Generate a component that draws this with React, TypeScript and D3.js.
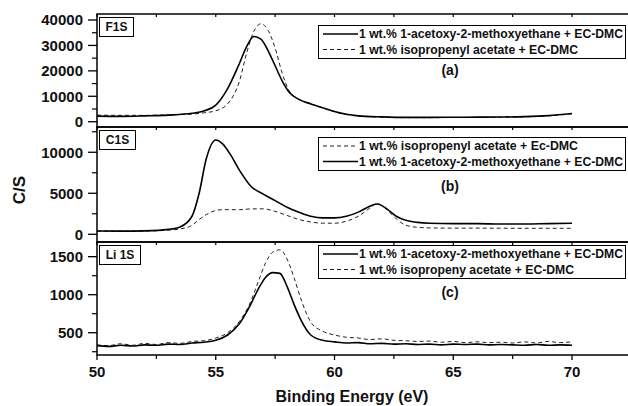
import React from "react";
import * as d3 from "d3";

// F1S panel
const f1sEnergy = [50, 51, 52, 53, 54, 54.5, 55, 55.5, 56, 56.3, 56.6, 56.9, 57.2, 57.5, 57.8, 58.1, 58.5, 59, 59.5, 60, 60.5, 61, 62, 63, 64, 65, 66, 67, 68, 69, 70];
const f1sAcetoxy = [2200, 2100, 2300, 2600, 3300, 4200, 6500, 13000, 23000, 29500, 33500, 32500, 28000, 22000, 16000, 11500, 8800, 7000, 5500, 4000, 2900, 2300, 1900, 1700, 1700, 1750, 1800, 1850, 2000, 2400, 3200];
const f1sIsopropenyl = [2600, 2500, 2500, 2700, 3000, 3500, 4300, 7000, 16000, 27000, 35500, 38500, 36000, 29000, 19000, 12000, 8800, 7000, 5400, 3900, 2800, 2200, 1800, 1600, 1600, 1650, 1700, 1800, 1900, 2300, 3100];

// C1S panel
const c1sEnergy = [50, 51, 52, 53, 53.5, 54, 54.3, 54.6, 55, 55.3, 55.6, 56, 56.5, 57, 57.5, 58, 58.5, 59, 59.5, 60, 60.5, 61, 61.4, 61.8, 62.2, 62.6, 63, 63.5, 64, 65, 66, 67, 68, 69, 70];
const c1sAcetoxy = [400, 380, 420, 600, 900, 2200, 5000, 9200, 11500, 11000, 9800, 7800, 5800, 4900, 4100, 3300, 2700, 2200, 2000, 2000, 2200, 2700, 3300, 3700, 3100, 2200, 1700, 1450, 1350, 1300, 1300, 1250, 1250, 1300, 1350];
const c1sIsopropenyl = [400, 380, 400, 500, 650, 1100, 1800, 2400, 2900, 3000, 3000, 3000, 3100, 3100, 2800, 2300, 1800, 1500, 1350, 1350, 1600, 2200, 3000, 3750, 3000, 1900, 1100, 850, 780, 750, 750, 740, 730, 730, 730];

// Li 1S panel
const li1sEnergy = [50, 50.5, 51, 51.5, 52, 52.5, 53, 53.5, 54, 54.5, 55, 55.5, 56, 56.4, 56.8, 57.1, 57.4, 57.7, 58, 58.3, 58.6, 59, 59.5, 60, 60.5, 61, 61.5, 62, 62.5, 63, 63.5, 64, 64.5, 65, 65.5, 66, 66.5, 67, 67.5, 68, 68.5, 69, 69.5, 70];
const li1sAcetoxy = [330, 320, 335, 325, 340, 335, 350, 345, 365, 375, 400, 470, 620, 830, 1080, 1230, 1290, 1280, 1110, 870, 660, 470, 400, 380, 365, 370, 355, 360, 350, 355, 345, 350, 340, 350, 345, 350, 340, 345, 340, 335, 345, 335, 340, 335];
const li1sIsopropenyl = [340, 330, 355, 335, 360, 345, 370, 360, 385, 395, 430, 500, 650, 860, 1180, 1420, 1560, 1590, 1470, 1220, 930, 640, 520, 470, 440, 430, 410, 420, 400, 395, 385, 390, 375, 385, 370, 380, 370, 375, 365, 380, 365, 385, 370, 380];

const xTicks = [50, 55, 60, 65, 70];
const xMinorTicks = [52.5, 57.5, 62.5, 67.5];

const panels = [
  {
    top: 14, bottom: 127, domain: [-2080, 42360], ticks: [0, 10000, 20000, 30000, 40000],
    minor: [5000, 15000, 25000, 35000], label: "F1S", labelW: 34, letter: "(a)",
    energy: f1sEnergy, solid: f1sAcetoxy, dashed: f1sIsopropenyl,
    legend: [
      { text: "1 wt.% 1-acetoxy-2-methoxyethane + EC-DMC", dashed: false, w: 264 },
      { text: "1 wt.% isopropenyl acetate + EC-DMC", dashed: true, w: 219 },
    ],
    legendTop: 25, letterY: 75,
  },
  {
    top: 127, bottom: 242, domain: [-940, 13080], ticks: [0, 5000, 10000],
    minor: [2500, 7500, 12500], label: "C1S", labelW: 36, letter: "(b)",
    energy: c1sEnergy, solid: c1sAcetoxy, dashed: c1sIsopropenyl,
    legend: [
      { text: "1 wt.% isopropenyl acetate + Ec-DMC", dashed: true, w: 219 },
      { text: "1 wt.% 1-acetoxy-2-methoxyethane + EC-DMC", dashed: false, w: 264 },
    ],
    legendTop: 137, letterY: 191,
  },
  {
    top: 242, bottom: 355, domain: [207, 1693], ticks: [500, 1000, 1500],
    minor: [250, 750, 1250], label: "Li 1S", labelW: 41, letter: "(c)",
    energy: li1sEnergy, solid: li1sAcetoxy, dashed: li1sIsopropenyl,
    legend: [
      { text: "1 wt.% 1-acetoxy-2-methoxyethane + EC-DMC", dashed: false, w: 264 },
      { text: "1 wt.% isopropeny acetate + EC-DMC", dashed: true, w: 215 },
    ],
    legendTop: 245, letterY: 297,
  },
];

const font = "'Liberation Sans', Arial, Helvetica, sans-serif";

export default function App() {
  const x = d3.scaleLinear().domain([50, 72.5]).range([97, 631.4]);

  return (
    <svg width={628} height={406} style={{ position: "absolute", left: 0, top: 0, background: "#fff" }} fontFamily={font}>
      {panels.map((p, pi) => {
        const y = d3.scaleLinear().domain(p.domain).range([p.bottom, p.top]);
        const line = d3
          .line<number>()
          .x((_, i) => x(p.energy[i]))
          .y((d) => y(d))
          .curve(d3.curveMonotoneX);
        const isLast = pi === panels.length - 1;
        return (
          <g key={p.label}>
            <path d={line(p.dashed) || ""} fill="none" stroke="#222" strokeWidth={1} strokeDasharray="4,3" />
            <path d={line(p.solid) || ""} fill="none" stroke="#000" strokeWidth={1.6} />
            <rect x={97} y={p.top} width={540} height={p.bottom - p.top} fill="none" stroke="#000" strokeWidth={1.5} />

            {/* y ticks */}
            {p.ticks.map((t) => (
              <g key={t}>
                <line x1={88} x2={97} y1={y(t)} y2={y(t)} stroke="#000" strokeWidth={1.3} />
                <text x={83} y={y(t)} dy="0.36em" textAnchor="end" fontSize={15} fontWeight="bold" fill="#111">
                  {t}
                </text>
              </g>
            ))}
            {p.minor.map((t) => (
              <line key={t} x1={92} x2={97} y1={y(t)} y2={y(t)} stroke="#000" strokeWidth={1.2} />
            ))}

            {/* x ticks on the top edge of each panel */}
            {[...xTicks, ...xMinorTicks].map((t) => (
              <line key={t} x1={x(t)} x2={x(t)} y1={p.top} y2={p.top + 3} stroke="#000" strokeWidth={1.2} />
            ))}
            {isLast &&
              xTicks.map((t) => (
                <g key={t}>
                  <line x1={x(t)} x2={x(t)} y1={p.bottom} y2={p.bottom + 5} stroke="#000" strokeWidth={1.3} />
                  <text x={x(t)} y={377} textAnchor="middle" fontSize={15} fontWeight="bold" fill="#111">
                    {t}
                  </text>
                </g>
              ))}
            {isLast &&
              xMinorTicks.map((t) => (
                <line key={t} x1={x(t)} x2={x(t)} y1={p.bottom} y2={p.bottom + 4} stroke="#000" strokeWidth={1.2} />
              ))}

            {/* panel label */}
            <rect x={99.5} y={p.top + 3.5} width={p.labelW} height={19} fill="#fff" stroke="#000" strokeWidth={1} />
            <text x={99.5 + p.labelW / 2} y={p.top + 17} textAnchor="middle" fontSize={12} fontWeight="bold" fill="#111">
              {p.label}
            </text>

            {/* legend */}
            <rect x={318.5} y={p.legendTop + 0.5} width={307} height={33} fill="#fff" stroke="#000" strokeWidth={1} />
            {p.legend.map((l, li) => {
              const cy = p.legendTop + 9 + li * 15.5;
              return (
                <g key={li}>
                  <line
                    x1={323} x2={358} y1={cy} y2={cy}
                    stroke={l.dashed ? "#222" : "#000"}
                    strokeWidth={l.dashed ? 1 : 1.6}
                    strokeDasharray={l.dashed ? "4,3" : undefined}
                  />
                  <text
                    x={359} y={cy} dy="0.36em" fontSize={12} fontWeight="bold" fill="#111"
                    textLength={l.w} lengthAdjust="spacingAndGlyphs"
                  >
                    {l.text}
                  </text>
                </g>
              );
            })}
            <text x={450} y={p.letterY} textAnchor="middle" fontSize={14} fontWeight="bold" fill="#111">
              {p.letter}
            </text>
          </g>
        );
      })}

      <text transform="translate(25,190) rotate(-90)" textAnchor="middle" fontSize={17} fontWeight="bold" fill="#111">
        C/S
      </text>
      <text x={352} y={402} textAnchor="middle" fontSize={16} fontWeight="bold" fill="#111">
        Binding Energy (eV)
      </text>
    </svg>
  );
}
